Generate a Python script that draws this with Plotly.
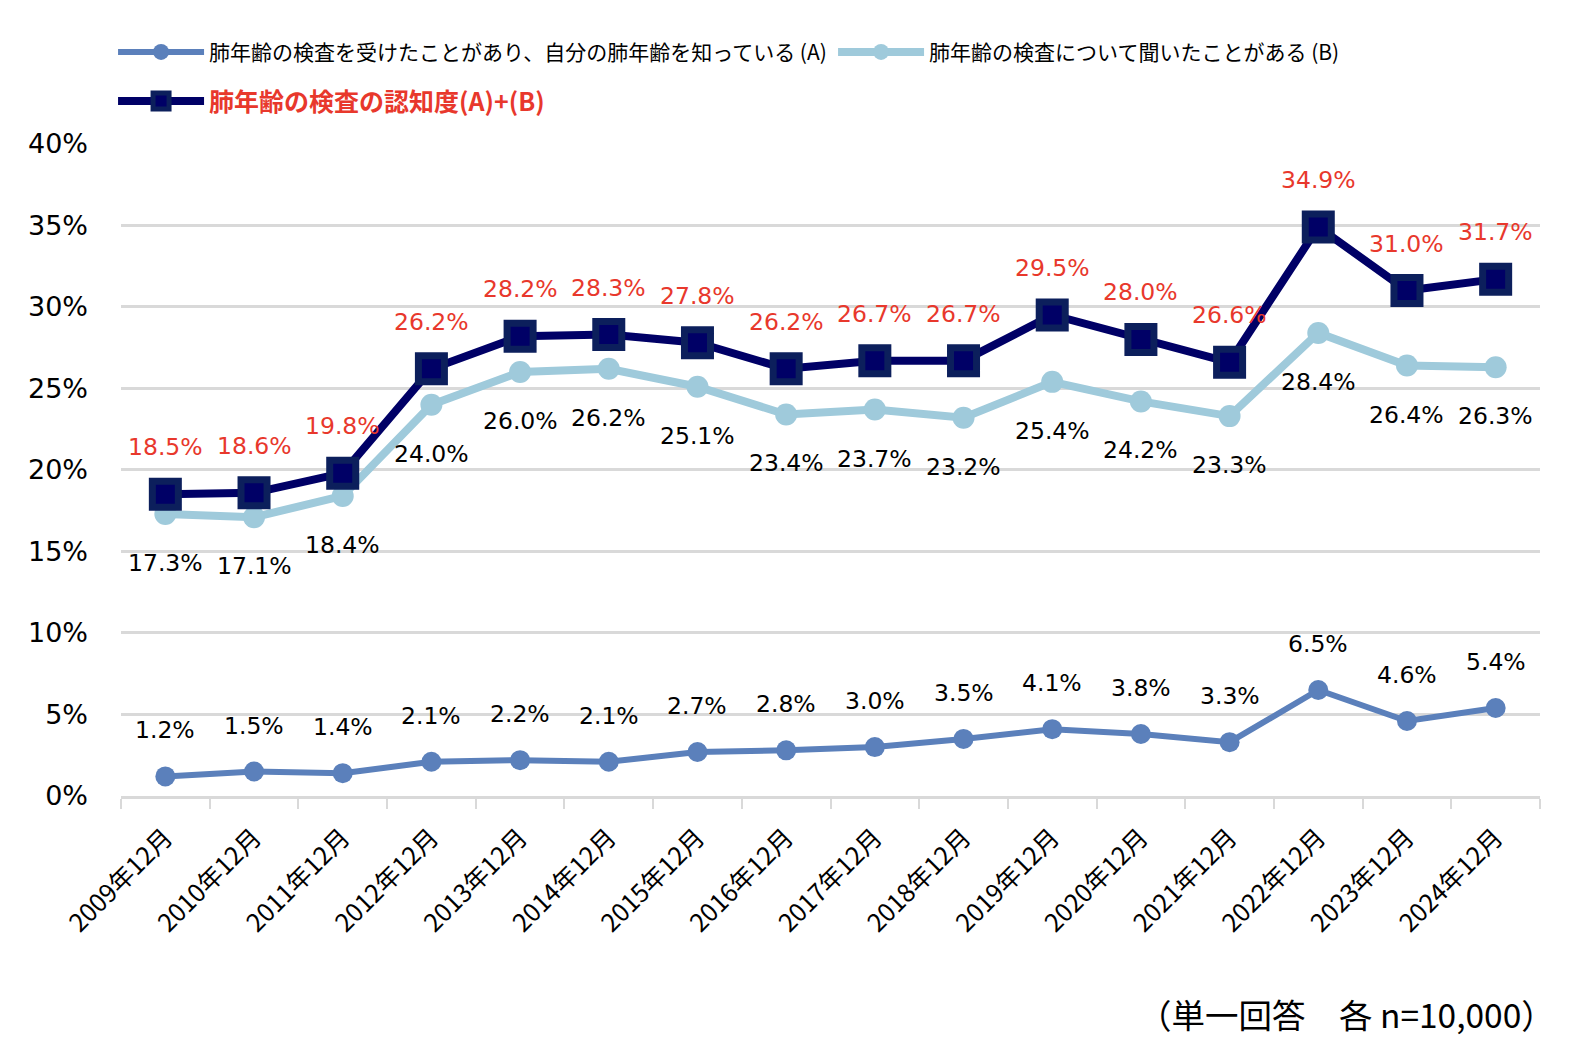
import plotly.graph_objects as go

categories = ["2009年12月", "2010年12月", "2011年12月", "2012年12月", "2013年12月", "2014年12月",
              "2015年12月", "2016年12月", "2017年12月", "2018年12月", "2019年12月", "2020年12月",
              "2021年12月", "2022年12月", "2023年12月", "2024年12月"]
series_a = [1.2, 1.5, 1.4, 2.1, 2.2, 2.1, 2.7, 2.8, 3.0, 3.5, 4.1, 3.8, 3.3, 6.5, 4.6, 5.4]
series_b = [17.3, 17.1, 18.4, 24.0, 26.0, 26.2, 25.1, 23.4, 23.7, 23.2, 25.4, 24.2, 23.3, 28.4, 26.4, 26.3]
series_total = [18.5, 18.6, 19.8, 26.2, 28.2, 28.3, 27.8, 26.2, 26.7, 26.7, 29.5, 28.0, 26.6, 34.9, 31.0, 31.7]
y_ticks = [0, 5, 10, 15, 20, 25, 30, 35, 40]
y_tick_labels = ["0%", "5%", "10%", "15%", "20%", "25%", "30%", "35%", "40%"]

name_a = "肺年齢の検査を受けたことがあり、自分の肺年齢を知っている (A)"
name_b = "肺年齢の検査について聞いたことがある (B)"
name_t = "<b>肺年齢の検査の認知度(A)+(B)</b>"

COL_A = "#5b80bb"
COL_B = "#9fcadb"
COL_T = "#000066"
COL_T_EDGE = "#0c1f5c"
RED = "#e8382c"
NUM_FONT = "DejaVu Sans"
JP_FONT = "Noto Sans CJK JP"

fig = go.Figure()

fig.add_trace(go.Scatter(
    x=categories, y=series_b, mode="lines+markers", name=name_b, legendrank=2,
    line=dict(color=COL_B, width=8),
    marker=dict(symbol="circle", size=22, color=COL_B),
    cliponaxis=False,
))
fig.add_trace(go.Scatter(
    x=categories, y=series_total, mode="lines+markers", name=name_t, legend="legend2",
    line=dict(color=COL_T, width=8),
    marker=dict(symbol="square", size=26, color=COL_T, line=dict(color=COL_T_EDGE, width=7)),
    cliponaxis=False,
))
fig.add_trace(go.Scatter(
    x=categories, y=series_a, mode="lines+markers", name=name_a, legendrank=1,
    line=dict(color=COL_A, width=6),
    marker=dict(symbol="circle", size=20, color=COL_A),
    cliponaxis=False,
))

LBL = 23.5
annotations = []
for c, v in zip(categories, series_total):
    annotations.append(dict(x=c, y=v, xref="x", yref="y", text=f"{v:.1f}%", showarrow=False,
                            yshift=47, font=dict(family=NUM_FONT, size=LBL, color=RED)))
for c, v in zip(categories, series_b):
    annotations.append(dict(x=c, y=v, xref="x", yref="y", text=f"{v:.1f}%", showarrow=False,
                            yshift=-49, font=dict(family=NUM_FONT, size=LBL, color="#000000")))
for c, v in zip(categories, series_a):
    annotations.append(dict(x=c, y=v, xref="x", yref="y", text=f"{v:.1f}%", showarrow=False,
                            yshift=46, font=dict(family=NUM_FONT, size=LBL, color="#000000")))
annotations.append(dict(x=1.012, y=-0.333, xref="paper", yref="paper", xanchor="right", yanchor="middle",
                        text="（単一回答　各 n=10,000）", showarrow=False,
                        font=dict(family=JP_FONT, size=33.5, color="#000000")))

legend_common = dict(orientation="h", xanchor="left", yanchor="middle",
                     itemwidth=86, tracegroupgap=0, bgcolor="rgba(0,0,0,0)")

fig.update_layout(
    width=1580, height=1058,
    margin=dict(l=113, r=48, t=135, b=270, autoexpand=False),
    paper_bgcolor="white", plot_bgcolor="white",
    showlegend=True,
    legend=dict(x=-0.0056, y=1.139, entrywidth=619,
                font=dict(family=JP_FONT, size=21, color="#000000"),
                traceorder="normal", **legend_common),
    legend2=dict(x=-0.0056, y=1.064,
                 font=dict(family=JP_FONT, size=25, color=RED), **legend_common),
    annotations=annotations,
    xaxis=dict(type="category", range=[-0.5, 15.5], tickson="boundaries",
               ticks="outside", ticklen=10, tickwidth=2, tickcolor="#d9d9d9",
               showline=True, linecolor="#d9d9d9", linewidth=3,
               showgrid=False, tickangle=-45, ticklabelstandoff=14,
               tickfont=dict(family=JP_FONT, size=25, color="#000000")),
    yaxis=dict(range=[0, 40.05], tickvals=y_ticks, ticktext=y_tick_labels,
               showgrid=True, gridcolor="#d9d9d9", gridwidth=3,
               zeroline=False, showline=False, ticklabelstandoff=32,
               tickfont=dict(family=NUM_FONT, size=27, color="#000000")),
)

fig.write_html("out.html")
